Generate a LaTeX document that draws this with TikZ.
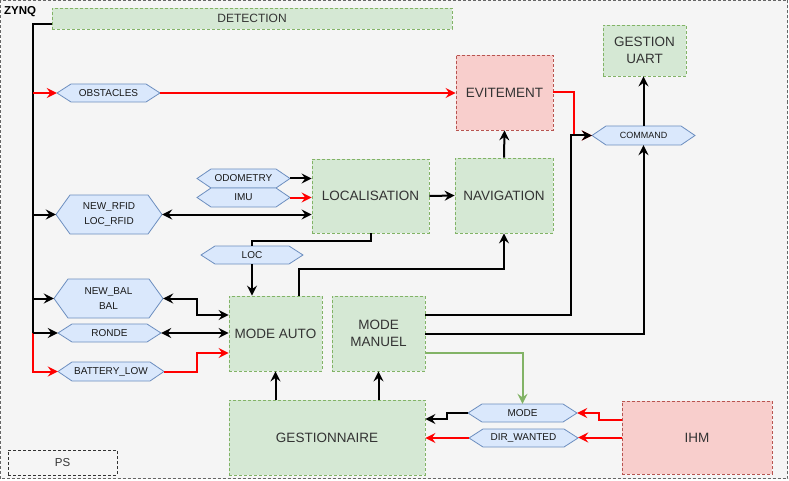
\documentclass[tikz,border=0pt]{standalone}
\usepackage{fontspec}
\setmainfont{Liberation Sans}
\usetikzlibrary{arrows.meta,calc}
\definecolor{gfill}{HTML}{D5E8D4}
\definecolor{gline}{HTML}{82B366}
\definecolor{rfill}{HTML}{F8CECC}
\definecolor{rline}{HTML}{B85450}
\definecolor{bfill}{HTML}{DAE8FC}
\definecolor{bline}{HTML}{6C8EBF}
\definecolor{bggray}{HTML}{F5F5F5}
\definecolor{cgray}{HTML}{666666}
\definecolor{txt}{HTML}{333333}
\definecolor{pure}{HTML}{FF0000}
\tikzset{
  gbox/.style={rectangle, draw=gline, fill=gfill, dashed, dash pattern=on 3pt off 2pt, line width=0.8pt, inner sep=0pt, text=txt, align=center, font=\fontsize{13.5}{17}\selectfont},
  rbox/.style={gbox, draw=rline, fill=rfill},
  hexline/.style={draw=bline, fill=bfill, line width=0.8pt},
  hextext/.style={rectangle, inner sep=0pt, align=center, text=black!90, font=\fontsize{10}{15}\selectfont},
  tip/.style={-{Stealth[length=10pt,width=10pt,inset=3.5pt]}},
  arr/.style={line width=2pt, tip},
  darr/.style={line width=2pt, {Stealth[length=10pt,width=10pt,inset=3.5pt]}-{Stealth[length=10pt,width=10pt,inset=3.5pt]}},
  wire/.style={line width=2pt},
  redarr/.style={line width=2pt, draw=pure, color=pure, tip},
  greenarr/.style={line width=2pt, draw=gline, color=gline, tip},
}
\newcommand\hexnode[6]{%
  \filldraw[hexline] ({#2-#4/2},#3) -- ({#2-#4/2+14},{#3-#5/2}) -- ({#2+#4/2-14},{#3-#5/2}) -- ({#2+#4/2},#3) -- ({#2+#4/2-14},{#3+#5/2}) -- ({#2-#4/2+14},{#3+#5/2}) -- cycle;
  \node[hextext, minimum width=#4pt, minimum height=#5pt] (#1) at (#2,#3) {#6};
}
\begin{document}
\begin{tikzpicture}[x=1pt,y=-1pt]
\useasboundingbox (0,0) rectangle (789,481);
% container
\draw[draw=cgray, fill=bggray, dashed, dash pattern=on 3pt off 2pt, line width=0.8pt] (0.5,0.5) rectangle (787.5,478.5);
\node[anchor=west, inner sep=0pt, font=\fontsize{11.5}{14}\selectfont\bfseries] (zynq) at (4,12) {ZYNQ};
\node[rectangle, draw=txt, dashed, dash pattern=on 3pt off 2pt, line width=0.8pt, minimum width=109pt, minimum height=25pt, inner sep=0pt, font=\fontsize{11.5}{14}\selectfont, text=txt] (ps) at (62.5,462.5) {PS};

% boxes
\node[gbox, minimum width=400pt, minimum height=21pt, font=\fontsize{12}{14}\selectfont] (det) at (252,18.5) {DETECTION};
\node[rbox, minimum width=97pt, minimum height=75pt] (evit) at (504.5,92.5) {EVITEMENT};
\node[gbox, minimum width=83pt, minimum height=51pt] (uart) at (644.5,50.5) {GESTION\\UART};
\node[gbox, minimum width=117pt, minimum height=74pt] (loc) at (370.5,196) {LOCALISATION};
\node[gbox, minimum width=98pt, minimum height=75pt] (nav) at (504,195.5) {NAVIGATION};
\node[gbox, minimum width=93pt, minimum height=75pt] (auto) at (275.5,333.5) {MODE AUTO};
\node[gbox, minimum width=93pt, minimum height=75pt] (manuel) at (378.5,333.5) {MODE\\MANUEL};
\node[gbox, minimum width=196pt, minimum height=75pt] (gest) at (327,437.5) {GESTIONNAIRE};
\node[rbox, minimum width=150pt, minimum height=73pt] (ihm) at (697,437.5) {IHM};

% hexagons
\hexnode{obst}{108.5}{93}{103}{18}{OBSTACLES}
\hexnode{cmd}{643.5}{135.5}{103}{19}{\fontsize{9}{11}\selectfont COMMAND}
\hexnode{odo}{243.5}{178.5}{93}{19}{ODOMETRY}
\hexnode{imu}{243.5}{197.5}{93}{19}{IMU}
\hexnode{rfid}{109}{214.5}{106}{39}{NEW\_RFID\\LOC\_RFID}
\hexnode{lochex}{252}{255}{102}{18}{LOC}
\hexnode{bal}{108.5}{298.5}{109}{39}{NEW\_BAL\\BAL}
\hexnode{ronde}{109.5}{333}{103}{18}{RONDE}
\hexnode{batt}{111}{371.5}{106}{19}{BATTERY\_LOW}
\hexnode{mode}{522.5}{413}{109}{18}{MODE}
\hexnode{dir}{523.5}{438}{109}{18}{DIR\_WANTED}

% bus
\coordinate (busx) at (33,0);
\draw[line width=2.2pt] ([yshift=-5.5pt]det.west) -| (ronde.west -| busx);
\draw[redarr] (ronde.west -| busx) |- (batt.west);
\draw[redarr] (obst.west -| busx) -- (obst.west);
\draw[arr] (rfid.west -| busx) -- (rfid.west);
\draw[arr] (bal.west -| busx) -- (bal.west);
\draw[arr] (ronde.west -| busx) -- (ronde.west);

% connectors
\draw[redarr] (obst.east) -- (obst.east -| evit.west);
\coordinate (jr) at (573.5,135.5);
\coordinate (jb) at (571,135.5);
\draw[redarr] (evit.east) -| (jr) -- (cmd.west);
\draw[arr] ([yshift=18.5pt]manuel.east) -| (jb) -- (cmd.west);
\draw[arr] (manuel.east) -| (cmd.south);
\draw[arr] (cmd.north) -- (cmd.north |- uart.south);
\draw[greenarr] ([yshift=-19.5pt]manuel.east) -| (mode.north);
\draw[redarr] ([yshift=17.5pt]ihm.west) -- ++(-23,0) |- (mode.east);
\draw[redarr] (ihm.west) -- (ihm.west -| dir.east);
\draw[arr] (mode.west) -- ++(-21,0) |- ([yshift=18.5pt]gest.east);
\draw[redarr] (dir.west) -- (dir.west -| gest.east);
\draw[arr] (auto.south |- gest.north) -- (auto.south);
\draw[arr] (manuel.south |- gest.north) -- (manuel.south);
\draw[arr] ([xshift=23pt]auto.north) -- ++(0,-27) -| (nav.south);
\draw[arr] (nav.north) -- (evit.south);
\draw[arr] (loc.east) -- (nav.west);
\draw[arr] (odo.east) -- (odo.east -| loc.west);
\draw[redarr] (imu.east) -- (imu.east -| loc.west);
\draw[darr] (rfid.east) -- (rfid.east -| loc.west);
\draw[wire] (loc.south) -- ++(0,8) -| (lochex.north);
\draw[arr] (lochex.south) -- (lochex.south |- auto.north);
\draw[darr] (bal.east) -- ++(34,0) |- ([yshift=18.5pt]auto.west);
\draw[darr] (ronde.east) -- (ronde.east -| auto.west);
\draw[redarr] (batt.east) -- ++(33,0) |- ([yshift=-19.5pt]auto.west);
\end{tikzpicture}
\end{document}
